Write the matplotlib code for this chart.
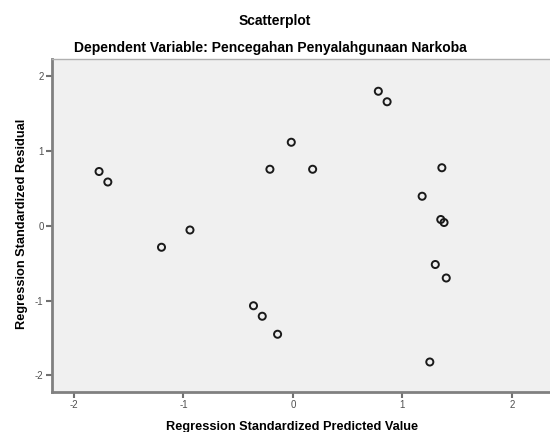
import matplotlib
matplotlib.use("Agg")
import matplotlib.pyplot as plt

plt.rcParams["font.family"] = ["Liberation Sans", "DejaVu Sans"]
plt.rcParams["axes.unicode_minus"] = False

# standardized predicted value vs standardized residual
pred = [-1.77, -1.69, -1.20, -0.94, -0.21, -0.36, -0.28, -0.14,
        0.78, 0.86, -0.015, 0.18, 1.36, 1.18, 1.35, 1.38, 1.30, 1.40, 1.25]
resid = [0.72, 0.58, -0.29, -0.06, 0.75, -1.07, -1.21, -1.45,
         1.79, 1.65, 1.11, 0.75, 0.77, 0.39, 0.08, 0.04, -0.52, -0.70, -1.82]
ticks = [-2, -1, 0, 1, 2]

fig = plt.figure(figsize=(5.5, 4.32), dpi=100)
ax = fig.add_axes([0.0945, 0.0926, 0.91, 0.7708])
ax.set_facecolor("#f0f0f0")

ax.scatter(pred, resid, s=26, facecolors="none", edgecolors="#1a1a1a",
           linewidths=1.4, zorder=3)

ax.set_xlim(-2.20, 2.37)
ax.set_ylim(-2.22, 2.22)
ax.set_xticks(ticks)
ax.set_yticks(ticks)
ax.tick_params(axis="both", direction="out", length=4, width=1.5,
               color="#707070", labelcolor="#505050", labelsize=7, pad=2)

for side in ["left", "bottom"]:
    ax.spines[side].set_color("#808080")
    ax.spines[side].set_linewidth(2)
ax.spines["top"].set_color("#b0b0b0")
ax.spines["top"].set_linewidth(1)
ax.spines["right"].set_visible(False)

ax.set_xlabel("Regression Standardized Predicted Value", fontsize=9.2,
              fontweight="bold")
ax.xaxis.set_label_coords(0.48, -0.088)
ax.set_ylabel("Regression Standardized Residual", fontsize=9.2,
              fontweight="bold")
ax.yaxis.set_label_coords(-0.048, 0.505)

fig.text(0.5, 0.951, "Scatterplot", ha="center", va="center",
         fontsize=10, fontweight="bold")
fig.text(0.491, 0.888, "Dependent Variable: Pencegahan Penyalahgunaan Narkoba",
         ha="center", va="center", fontsize=10, fontweight="bold")

fig.savefig("out.png", dpi=100)
